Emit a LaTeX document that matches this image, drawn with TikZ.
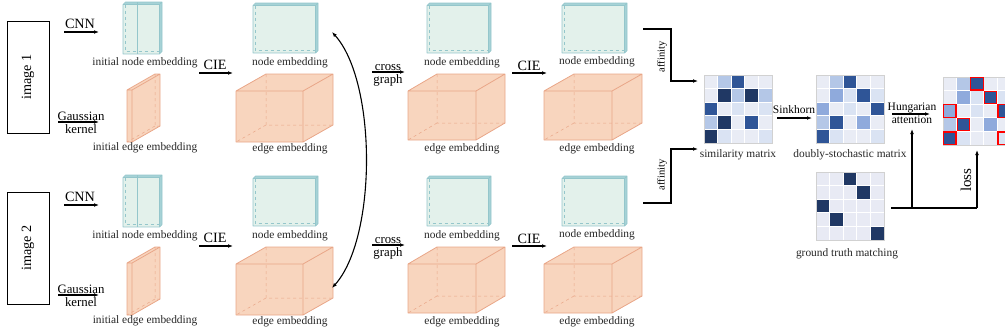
\documentclass[tikz,border=0pt]{standalone}
\usepackage{fontspec}
\setmainfont{Liberation Serif}
\usetikzlibrary{arrows.meta}
\definecolor{vl}{HTML}{E9ECF5}
\definecolor{lt}{HTML}{DAE3F3}
\definecolor{mb}{HTML}{B4C7E7}
\definecolor{md}{HTML}{8FAADC}
\definecolor{dk}{HTML}{2F5597}
\definecolor{nv}{HTML}{203864}
\definecolor{gv}{HTML}{E8EAF4}
\definecolor{tealfill}{HTML}{E3F1EB}
\definecolor{tealline}{HTML}{94C6CB}
\definecolor{tealside}{HTML}{A6D2D6}
\definecolor{orfill}{HTML}{F8D5BE}
\definecolor{orline}{HTML}{E9A688}

% edge cube: x y w h dx dy
\newcommand\ecube[6]{%
  \fill[orfill] (#1,#2+#4) -- (#1,#2) -- (#1+#5,#2+#6) -- (#1+#3+#5,#2+#6) -- (#1+#3+#5,#2+#4+#6) -- (#1+#3,#2+#4) -- cycle;
  \draw[orline, dashed, line width=0.5pt] (#1+#5,#2+#6) -- (#1+#5,#2+#4+#6) -- (#1+#3+#5,#2+#4+#6)
        (#1+#5,#2+#4+#6) -- (#1,#2+#4);
  \draw[orline, line width=0.8pt, line join=round] (#1,#2) rectangle (#1+#3,#2+#4)
        (#1,#2) -- (#1+#5,#2+#6) -- (#1+#3+#5,#2+#6) -- (#1+#3+#5,#2+#4+#6) -- (#1+#3,#2+#4)
        (#1+#3,#2) -- (#1+#3+#5,#2+#6);
}
% node slab: x y w h
\newcommand\nslab[4]{%
  \fill[tealside] (#1,#2+2.5) -- (#1+2.5,#2) -- (#1+#3,#2) -- (#1+#3,#2+#4-2.5) -- (#1+#3-2.5,#2+#4) -- (#1+#3-2.5,#2+2.5) -- cycle;
  \fill[tealfill] (#1,#2+2.5) rectangle (#1+#3-2.5,#2+#4);
  \draw[tealline, dashed, line width=0.5pt] (#1+2.5,#2+2.5) -- (#1+2.5,#2+#4-2.5) -- (#1+#3-2.5,#2+#4-2.5);
  \draw[tealline, line width=0.7pt, line join=round] (#1,#2+2.5) rectangle (#1+#3-2.5,#2+#4)
     (#1,#2+2.5) -- (#1+2.5,#2) -- (#1+#3,#2) -- (#1+#3,#2+#4-2.5) -- (#1+#3-2.5,#2+#4)
     (#1+#3-2.5,#2+2.5) -- (#1+#3,#2);
}
% 5x5 matrix: x y cell rows
\newcommand\cmat[4]{%
  \foreach \rowc [count=\r] in {#4} {
    \foreach \cc [count=\k] in \rowc {
      \fill[fill=\cc, draw=white, line width=0.9pt] (#1+\k*#3-#3, #2+\r*#3-#3) rectangle ++(#3,#3);
    }
  }
  \draw[black!18, line width=0.6pt] (#1,#2) rectangle ++(5*#3,5*#3);
}

\begin{document}
\begin{tikzpicture}[x=1pt,y=-1pt,
  lab/.style={font=\fontsize{11.4}{12}\selectfont, text=black!85, inner sep=0pt},
  big/.style={font=\fontsize{14.2}{15}\selectfont, inner sep=0pt},
  med/.style={font=\fontsize{12.8}{13}\selectfont, inner sep=0pt},
  sml/.style={font=\fontsize{11.5}{12}\selectfont, inner sep=0pt},
  arr/.style={-{Latex[length=5pt,width=3.8pt]}, line width=1.1pt},
  plain/.style={line width=1.1pt},
  imgbox/.style={draw, line width=1pt, minimum width=42pt, minimum height=112pt, inner sep=0pt}]
\useasboundingbox (0,0) rectangle (1005,335);
\clip (0,0) rectangle (1005,335);

% image boxes
\node[imgbox] (img1) at (28,77) {};
\node[big, rotate=90] (img1t) at (img1) {image 1};
\node[imgbox] (img2) at (28,248) {};
\node[big, rotate=90] (img2t) at (img2) {image 2};

\foreach \n/\dy in {1/0,2/173}{
  % CNN
  \coordinate (cnnA\n) at (64,32+\dy);
  \coordinate (cnnB\n) at (99,32+\dy);
  \draw[arr] (cnnA\n) -- (cnnB\n);
  \node[big, anchor=base] (cnnT\n) at (80,28+\dy) {CNN};
  % Gaussian kernel
  \node[med, anchor=base] (gkT\n) at (81,120+\dy) {Gaussian};
  \node[med, anchor=base] (gkU\n) at (81,133+\dy) {kernel};
  \coordinate (gkA\n) at (58,122+\dy);
  \coordinate (gkB\n) at (99,122+\dy);
  \draw[arr] (gkA\n) -- (gkB\n);
  % initial embeddings
  \nslab{123}{2+\dy}{39}{52}
  \draw[tealline, line width=0.6pt] (137,2+\dy) -- (137,54+\dy);
  \node[lab] (inn\n) at (145,63+\dy) {initial node embedding};
  \ecube{127}{90+\dy}{5}{52}{28}{-16}
  \node[lab] (ine\n) at (145,148+\dy) {initial edge embedding};
  % CIE 1
  \coordinate (cieA\n) at (199,73+\dy);
  \coordinate (cieB\n) at (233,73+\dy);
  \draw[arr] (cieA\n) -- (cieB\n);
  \node[big, anchor=base] (cieT\n) at (215,69+\dy) {CIE};
  % column 2
  \nslab{253}{3+\dy}{65}{50}
  \node[lab] (ne2\n) at (290,63+\dy) {node embedding};
  \ecube{236}{91+\dy}{67}{51}{30}{-17}
  \node[lab] (ee2\n) at (290,149+\dy) {edge embedding};
  % cross graph
  \coordinate (cgA\n) at (372,72+\dy);
  \coordinate (cgB\n) at (405,72+\dy);
  \draw[arr] (cgA\n) -- (cgB\n);
  \node[med, anchor=base] (cgT\n) at (388,70+\dy) {cross};
  \node[med, anchor=base] (cgU\n) at (388,83+\dy) {graph};
  % column 3
  \nslab{427}{3+\dy}{64}{50}
  \node[lab] (ne3\n) at (462,63+\dy) {node embedding};
  \ecube{408}{91+\dy}{68}{49}{29}{-17}
  \node[lab] (ee3\n) at (462,149+\dy) {edge embedding};
  % CIE 2
  \coordinate (cieC\n) at (512,73+\dy);
  \coordinate (cieD\n) at (547,73+\dy);
  \draw[arr] (cieC\n) -- (cieD\n);
  \node[big, anchor=base] (cieU\n) at (529,70+\dy) {CIE};
  % column 4
  \nslab{562}{3+\dy}{65}{50}
  \node[lab] (ne4\n) at (597,62+\dy) {node embedding};
  \ecube{544}{91+\dy}{68}{49}{30}{-17}
  \node[lab] (ee4\n) at (597,149+\dy) {edge embedding};
}

% double arrow between the two graphs
\coordinate (xa) at (332,32);
\coordinate (xb) at (332,288);
\draw[{Latex[length=5pt,width=3.8pt]}-{Latex[length=5pt,width=3.8pt]}, line width=1.1pt]
  (xa) .. controls (377,82) and (377,238) .. (xb);

% affinity connectors
\coordinate (afA) at (643,29);
\coordinate (afB) at (671,29);
\coordinate (afC) at (671,81);
\coordinate (afD) at (698,81);
\draw[arr] (afA) -- (afB) -- (afC) -- (afD);
\node[sml, rotate=90, font=\fontsize{10.5}{12}\selectfont] (afT1) at (662,57) {affinity};
\coordinate (agA) at (643,203);
\coordinate (agB) at (671,203);
\coordinate (agC) at (671,149);
\coordinate (agD) at (698,149);
\draw[arr] (agA) -- (agB) -- (agC) -- (agD);
\node[sml, rotate=90, font=\fontsize{10.5}{12}\selectfont] (afT2) at (662,175) {affinity};

% similarity matrix
\cmat{704}{75}{13.6}{{vl,mb,dk,vl,vl},{vl,nv,mb,nv,mb},{dk,vl,lt,vl,lt},{mb,nv,vl,dk,vl},{nv,lt,vl,vl,lt}}
\node[lab] (simT) at (738,155) {similarity matrix};

% Sinkhorn
\coordinate (skA) at (777,118);
\coordinate (skB) at (812,118);
\draw[arr] (skA) -- (skB);
\node[sml, anchor=base] (skT) at (794,113) {Sinkhorn};

% doubly-stochastic
\cmat{816}{75}{13.6}{{vl,mb,dk,vl,vl},{vl,md,lt,dk,lt},{md,vl,lt,vl,dk},{mb,dk,vl,md,vl},{dk,lt,vl,vl,lt}}
\node[lab] (dsT) at (850,155) {doubly-stochastic matrix};

% Hungarian attention
\coordinate (haA) at (892,114);
\coordinate (haB) at (930,114);
\draw[arr] (haA) -- (haB);
\node[sml, anchor=base] (haT) at (912,110) {Hungarian};
\node[sml, anchor=base] (haU) at (912,123) {attention};

% result matrix
\cmat{943}{77}{13.6}{{vl,mb,dk,vl,vl},{vl,md,lt,dk,lt},{md,vl,lt,vl,dk},{mb,dk,vl,md,vl},{dk,lt,vl,vl,lt}}
\foreach \r/\k in {1/3,2/4,3/1,3/5,4/2,5/1,5/5}{
  \draw[red, line width=1.1pt] (943+\k*13.6-13.6+0.6, 77+\r*13.6-13.6+0.6) rectangle ++(12.4,12.4);
}

% ground truth
\cmat{816}{172}{13.6}{{gv,gv,nv,gv,gv},{gv,gv,gv,nv,gv},{nv,gv,gv,gv,gv},{gv,nv,gv,gv,gv},{gv,gv,gv,gv,nv}}
\node[lab] (gtT) at (847,254) {ground truth matching};

% ground truth connectors
\coordinate (gA) at (891,208);
\coordinate (gB) at (912,208);
\coordinate (gC) at (977,208);
\coordinate (gD) at (912,129);
\coordinate (gE) at (977,150);
\draw[plain] (gA) -- (gC);
\draw[arr] (gB) -- (gD);
\draw[arr] (gC) -- (gE);
\node[rotate=90, inner sep=0pt, font=\fontsize{15}{16}\selectfont] (lossT) at (966,180) {loss};
\end{tikzpicture}
\end{document}
